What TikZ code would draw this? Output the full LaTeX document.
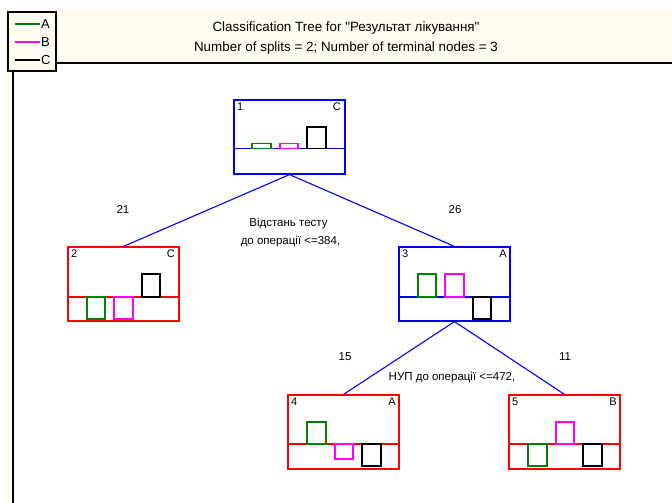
\documentclass[tikz,border=0pt]{standalone}
\usepackage{fontspec}
\setmainfont{Liberation Sans}[Ligatures=TeXOff]
\definecolor{cream}{RGB}{255,251,240}
\definecolor{dgreen}{RGB}{0,128,0}
\definecolor{mag}{RGB}{255,0,255}
\definecolor{nblue}{RGB}{0,0,255}
\definecolor{nred}{RGB}{255,0,0}
\tikzset{
  treebox/.style={draw, rectangle, minimum width=111pt, minimum height=74pt, inner sep=0pt, line width=1.2pt},
  splitbox/.style={treebox, draw=nblue},
  leafbox/.style={treebox, draw=nred},
  edge/.style={nblue, line width=1.1pt},
  gbar/.style={draw=dgreen, line width=1.2pt},
  mbar/.style={draw=mag, line width=1.2pt},
  kbar/.style={draw=black, line width=1.2pt},
  tag/.style={font=\fontsize{11}{12}\selectfont, inner sep=0pt},
  lbl/.style={font=\fontsize{11.5}{13}\selectfont, inner sep=0pt},
  leglbl/.style={font=\fontsize{13}{13}\selectfont, inner sep=0pt},
  ttl/.style={font=\fontsize{13.4}{15}\selectfont, inner sep=0pt},
}
\begin{document}
\begin{tikzpicture}[x=1pt,y=-1pt]
\useasboundingbox (0,0) rectangle (672,503);
\fill[white] (0,0) rectangle (672,503);
% cream frame
\fill[cream] (5,10) rectangle (672,63);
\fill[cream] (5,63) rectangle (13,503);
% frame lines
\draw[line width=1.5pt] (56,63) -- (672,63);
\draw[line width=1.5pt] (13,71) -- (13,503);
% legend
\node[draw, line width=1.1pt, fill=cream, minimum width=48pt, minimum height=59pt, inner sep=0pt] (leg) at (32,41.5) {};
\draw[dgreen, line width=1.2pt] (15,24) -- (40,24);
\draw[mag, line width=1.2pt] (15,42) -- (40,42);
\draw[black, line width=1.2pt] (15,60) -- (40,60);
\node[leglbl, anchor=west] (la) at (41,24) {A};
\node[leglbl, anchor=west] (lb) at (41,42) {B};
\node[leglbl, anchor=west] (lc) at (41,60) {C};
% title
\node[ttl] (t1) at (346,28) {Classification Tree for "Результат лікування"};
\node[ttl] (t2) at (346,48) {Number of splits = 2; Number of terminal nodes = 3};
% nodes
\node[splitbox] (n1) at (289.5,137) {};
\node[leafbox] (n2) at (123.5,284) {};
\node[splitbox] (n3) at (454.5,284) {};
\node[leafbox] (n4) at (343.5,432) {};
\node[leafbox] (n5) at (564.5,432) {};
% dividers
\draw[nblue, line width=1.2pt] (n1.west |- 0,148.5) -- (n1.east |- 0,148.5);
\draw[nred, line width=1.2pt] (n2.west |- 0,297) -- (n2.east |- 0,297);
\draw[nblue, line width=1.2pt] (n3.west |- 0,297) -- (n3.east |- 0,297);
\draw[nred, line width=1.2pt] (n4.west |- 0,444) -- (n4.east |- 0,444);
\draw[nred, line width=1.2pt] (n5.west |- 0,444) -- (n5.east |- 0,444);
% node tags
\node[tag, anchor=north west] (id1) at (237,103) {1};
\node[tag, anchor=north east] (c1) at (341,103) {C};
\node[tag, anchor=north west] (id2) at (71,250) {2};
\node[tag, anchor=north east] (c2) at (175,250) {C};
\node[tag, anchor=north west] (id3) at (402,250) {3};
\node[tag, anchor=north east] (c3) at (507,250) {A};
\node[tag, anchor=north west] (id4) at (291,398) {4};
\node[tag, anchor=north east] (c4) at (396,398) {A};
\node[tag, anchor=north west] (id5) at (512,398) {5};
\node[tag, anchor=north east] (c5) at (617,398) {B};
% bars node 1
\draw[gbar] (252,143.5) rectangle (271,148.5);
\draw[mbar] (280,143.5) rectangle (298,148.5);
\draw[kbar] (307,127) rectangle (326,148.5);
% bars node 2
\draw[kbar] (142,274) rectangle (160,297);
\draw[gbar] (87,297) rectangle (105,319);
\draw[mbar] (114,297) rectangle (133,319);
% bars node 3
\draw[gbar] (418,274) rectangle (436,297);
\draw[mbar] (445,274) rectangle (464,297);
\draw[kbar] (473,297) rectangle (491,319);
% bars node 4
\draw[gbar] (307,422) rectangle (326,444);
\draw[mbar] (335,444) rectangle (353,459);
\draw[kbar] (362,444) rectangle (381,466);
% bars node 5
\draw[mbar] (556,422) rectangle (574,444);
\draw[gbar] (528,444) rectangle (547,466);
\draw[kbar] (583,444) rectangle (602,466);
% connectors
\draw[edge] (n1.south) -- (n2.north);
\draw[edge] (n1.south) -- (n3.north);
\draw[edge] (n3.south) -- (n4.north);
\draw[edge] (n3.south) -- (n5.north);
% edge labels
\node[lbl] (e21) at (123,209.5) {21};
\node[lbl] (e26) at (455,209.5) {26};
\node[lbl] (s1a) at (288.5,224) {Відстань тесту};
\node[lbl] (s1b) at (290.5,242) {до операції <=384,};
\node[lbl] (e15) at (345,357) {15};
\node[lbl] (e11) at (565,357) {11};
\node[lbl] (s2) at (452,377.5) {НУП до операції <=472,};
\end{tikzpicture}
\end{document}
